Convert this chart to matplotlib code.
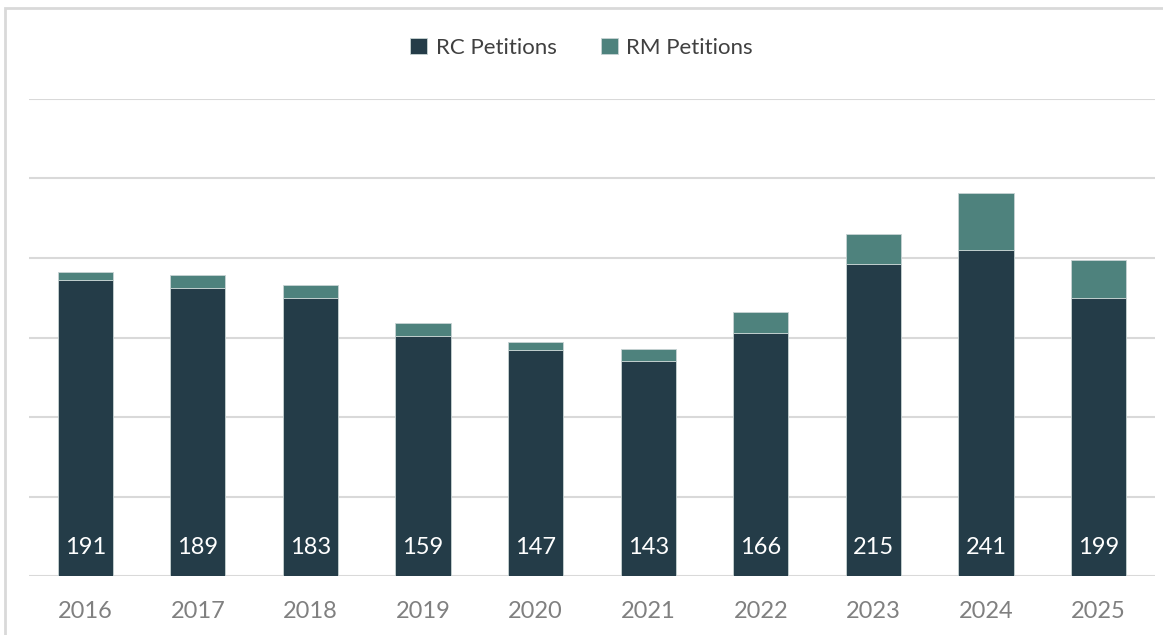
import matplotlib.pyplot as plt
from matplotlib.patches import Rectangle
import numpy as np

plt.rcParams['font.family'] = ['Lato', 'DejaVu Sans']

years = ['2016', '2017', '2018', '2019', '2020', '2021', '2022', '2023', '2024', '2025']
rc_petitions = [186, 181, 175, 151, 142, 135, 153, 196, 205, 175]
rm_petitions = [5, 8, 8, 8, 5, 8, 13, 19, 36, 24]
totals = [191, 189, 183, 159, 147, 143, 166, 215, 241, 199]

RC_COLOR = '#243c48'
RM_COLOR = '#4e827d'
GRID_COLOR = '#d9d9d9'

fig = plt.figure(figsize=(11.63, 6.35), dpi=100)
ax = fig.add_axes([0.0249, 0.0929, 0.9682, 0.7512])

x = np.arange(len(years))
width = 0.49

ax.bar(x, rc_petitions, width=width, color=RC_COLOR, edgecolor='#c8d4d4',
       linewidth=0.6, label='RC Petitions', zorder=3)
ax.bar(x, rm_petitions, width=width, bottom=rc_petitions, color=RM_COLOR,
       edgecolor='#c8d4d4', linewidth=0.6, label='RM Petitions', zorder=3)

for xi, t in zip(x, totals):
    ax.text(xi, 18, str(t), ha='center', va='center', color='white',
            fontsize=17, zorder=4)

ax.set_xlim(-0.5, len(years) - 0.5)
ax.set_ylim(0, 300)
ax.set_yticks(np.arange(0, 301, 50))
ax.yaxis.grid(True, color=GRID_COLOR, linewidth=1.5, zorder=0)
ax.set_yticklabels([])
ax.tick_params(axis='y', length=0)
ax.set_xticks(x)
ax.set_xticklabels(years, color='#808080', fontsize=17)
ax.tick_params(axis='x', length=0, pad=18)

for s in ax.spines.values():
    s.set_visible(False)

leg = fig.legend(loc='center', bbox_to_anchor=(0.5, 0.925), ncol=2,
                 frameon=False, fontsize=16, handlelength=0.75,
                 handleheight=0.75, columnspacing=2.0, handletextpad=0.4)
for t in leg.get_texts():
    t.set_color('#404040')

fig.patches.append(Rectangle((0.004, -0.05), 1.1, 1.037,
                             transform=fig.transFigure, fill=False,
                             edgecolor='#d9d9d9', linewidth=2))

fig.savefig('out.png', dpi=100)
